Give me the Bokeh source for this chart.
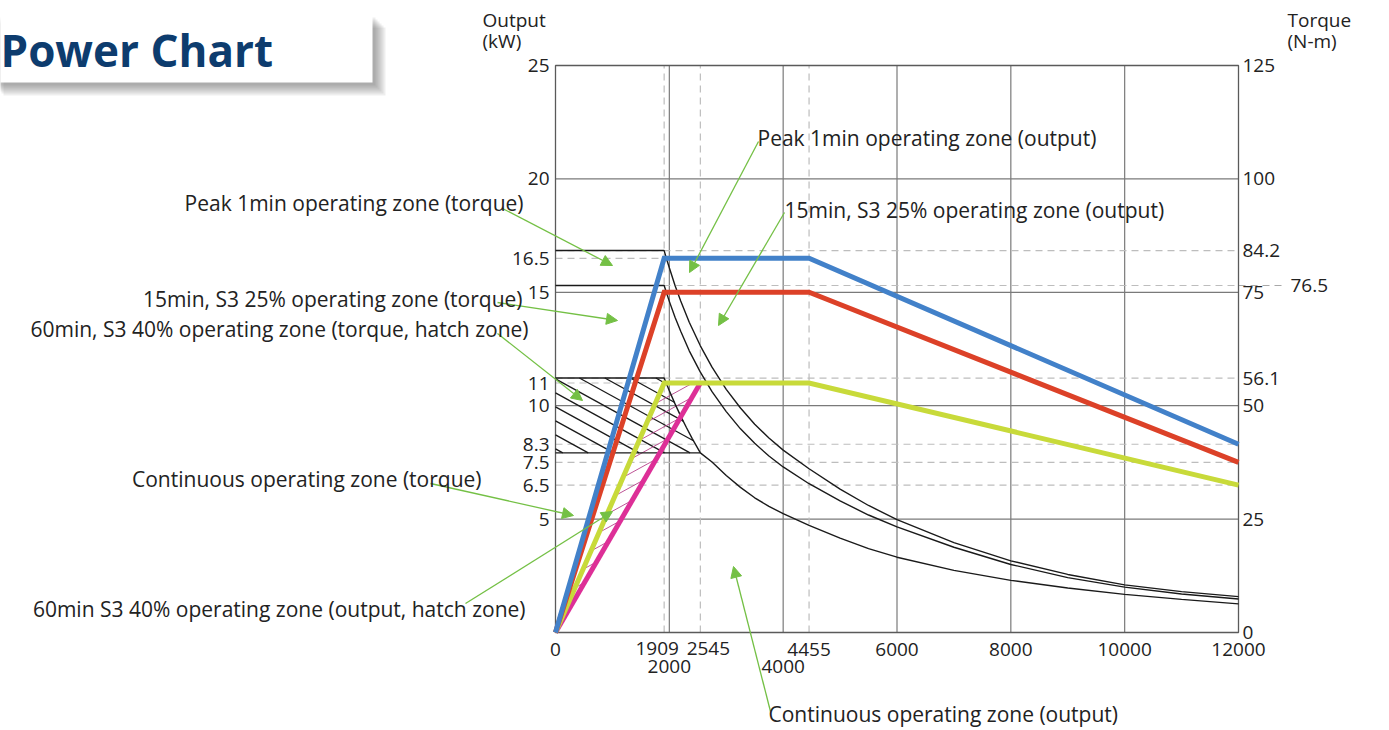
import numpy as np
from bokeh.plotting import figure
from bokeh.models import Range1d, LinearAxis, FixedTicker, Label, Arrow, NormalHead
from bokeh.embed import file_html
from bokeh.resources import INLINE

# ---------------- data ----------------
speed_peak = [0, 1909, 4455, 12000]
output_peak = [0, 16.5, 16.5, 8.3]
speed_s3_25 = [0, 1909, 4455, 12000]
output_s3_25 = [0, 15, 15, 7.5]
speed_cont = [0, 1909, 4455, 12000]
output_cont = [0, 11, 11, 6.5]
speed_s3_40 = [0, 2545]
output_s3_40 = [0, 11]

torque_speed_a = [0, 1909, 1950, 2000, 2100, 2200, 2350, 2545, 2750, 3000, 3250, 3500,
                  3750, 4000, 4455, 5000, 5500, 6000, 7000, 8000, 9000, 10000, 11000, 12000]
torque_peak = [84.2, 84.2, 82.4, 80.4, 76.5, 73.1, 68.4, 63.2, 58.5, 53.6, 49.5, 45.9,
               42.9, 40.2, 36.1, 31.6, 28.0, 24.9, 19.8, 15.8, 12.8, 10.5, 9.0, 7.9]
torque_s3_25 = [76.5, 76.5, 74.9, 73.0, 69.5, 66.4, 62.1, 57.4, 53.1, 48.7, 44.9, 41.7,
                38.9, 36.5, 32.8, 29.0, 25.9, 23.3, 18.8, 15.0, 12.1, 10.0, 8.5, 7.4]
torque_speed_s3_40 = [0, 1909, 2000, 2100, 2200, 2300, 2400, 2545]
torque_s3_40 = [56.1, 56.1, 53.3, 50.4, 47.7, 45.2, 42.8, 39.6]
torque_speed_cont = [0, 2545, 2750, 3000, 3250, 3500, 3750, 4000, 4455, 5000, 5500, 6000,
                     7000, 8000, 9000, 10000, 11000, 12000]
torque_cont = [39.6, 39.6, 37.6, 34.6, 32.0, 29.7, 27.8, 26.2, 23.6, 20.8, 18.5, 16.6,
               13.7, 11.5, 9.8, 8.4, 7.3, 6.3]

output_ticks = [5, 6.5, 7.5, 8.3, 10, 11, 15, 16.5, 20, 25]
torque_ticks = [0, 25, 50, 56.1, 75, 84.2, 100, 125]
speed_ticks_row1 = [0, 4455, 6000, 8000, 10000, 12000]
speed_ticks_shifted = [1909, 2545]
speed_ticks_row2 = [2000, 4000]
grid_speed = [2000, 4000, 6000, 8000, 10000]
grid_output = [5, 10, 15, 20]
dashed_speed = [1909, 2545, 4455]
dashed_output = [16.5, 11, 8.3, 7.5, 6.5]
dashed_output_end = [1909, 1909, 12000, 12000, 12000]
dashed_torque = [84.2, 76.5, 56.1]
torque_extra_label = 76.5

annotations = [
    "Peak 1min operating zone (torque)",
    "Peak 1min operating zone (output)",
    "15min, S3 25% operating zone (output)",
    "15min, S3 25% operating zone (torque)",
    "60min, S3 40% operating zone (torque, hatch zone)",
    "Continuous operating zone (torque)",
    "60min S3 40% operating zone (output, hatch zone)",
    "Continuous operating zone (output)",
]

SPEED_MAX = speed_ticks_row1[-1]
OUTPUT_MAX = output_ticks[-1]
TORQUE_MAX = torque_ticks[-1]

# ---------------- layout helpers ----------------
FONT = "Open Sans"
FRAME_L, FRAME_R, FRAME_T, FRAME_B = 555, 1238, 65, 632   # canvas pixels of the chart box
SX = (FRAME_R - FRAME_L) / SPEED_MAX    # px per rpm
SY = (FRAME_B - FRAME_T) / OUTPUT_MAX   # px per kW
SYT = (FRAME_B - FRAME_T) / TORQUE_MAX  # px per N-m
W, H = 1385, 728


def dx(px):
    return (px - FRAME_L) / SX


def dy(py):
    return (FRAME_B - py) / SY


def dyt(py):
    return (FRAME_B - py) / SYT


# the plotting frame covers the whole canvas so that the texts round the chart are not clipped
p = figure(width=W, height=H, x_range=Range1d(dx(0), dx(W)), y_range=Range1d(dy(H), dy(0)),
           output_backend="svg", toolbar_location=None, min_border=0,
           x_axis_location=None, y_axis_location=None)
p.extra_y_ranges = {"torque": Range1d(dyt(H), dyt(0))}
p.outline_line_color = None
p.background_fill_color = "white"
p.border_fill_color = "white"
p.grid.visible = False

TICK_FS = "19px"
TXT = "#222222"
GRID = "#7a7a7a"
DASH = "#bdbdbd"


def style_axis(ax, standoff):
    ax.major_tick_line_color = None
    ax.minor_tick_line_color = None
    ax.major_tick_out = 0
    ax.major_tick_in = 0
    ax.axis_line_color = None
    ax.major_label_standoff = standoff
    ax.major_label_text_font = FONT
    ax.major_label_text_font_size = TICK_FS
    ax.major_label_text_color = TXT


xax = LinearAxis(ticker=FixedTicker(ticks=speed_ticks_row1), fixed_location=0)
style_axis(xax, 10)
p.add_layout(xax, "below")
xax2 = LinearAxis(ticker=FixedTicker(ticks=speed_ticks_row2), fixed_location=0)
style_axis(xax2, 27)
p.add_layout(xax2, "below")
yax = LinearAxis(ticker=FixedTicker(ticks=output_ticks), fixed_location=0)
style_axis(yax, 6)
p.add_layout(yax, "left")
rax = LinearAxis(y_range_name="torque", ticker=FixedTicker(ticks=torque_ticks),
                 fixed_location=SPEED_MAX)
style_axis(rax, 4)
p.add_layout(rax, "right")


def clabel(x, y, text, size, align="left", baseline="middle", **kw):
    return Label(x=x, y=y, x_units="canvas", y_units="canvas", text=text, text_font=FONT,
                 text_font_size=size, text_align=align, text_baseline=baseline, **kw)


# ---------------- title box with soft shadow ----------------
BOX_L, BOX_R, BOX_T, BOX_B = -10, 372, 14, 82
for k in [3, 5, 7, 9, 11, 13]:
    p.quad(left=dx(BOX_L + k), right=dx(BOX_R + k), top=dy(BOX_T + k), bottom=dy(BOX_B + k),
           fill_color="#404040", fill_alpha=0.09, line_color=None)
p.quad(left=dx(BOX_L), right=dx(BOX_R), top=dy(BOX_T), bottom=dy(BOX_B),
       fill_color="white", line_color=None)
p.add_layout(clabel(0, 49, "Power Chart", "44px", text_font_style="bold",
                    text_color="#0d3c6e"))

# ---------------- grid & dashed reference lines ----------------
p.segment(x0=grid_speed, x1=grid_speed, y0=0, y1=OUTPUT_MAX, line_color=GRID, line_width=1.2)
p.segment(x0=0, x1=SPEED_MAX, y0=grid_output, y1=grid_output, line_color=GRID, line_width=1.2)
p.segment(x0=dashed_speed, x1=dashed_speed, y0=0, y1=OUTPUT_MAX, line_color=DASH,
          line_dash="7 5", line_width=1.2)
p.segment(x0=0, x1=dashed_output_end, y0=dashed_output, y1=dashed_output,
          line_color=DASH, line_dash="7 5", line_width=1.2)
p.segment(x0=0, x1=SPEED_MAX, y0=dashed_torque, y1=dashed_torque, y_range_name="torque",
          line_color=DASH, line_dash="7 5", line_width=1.2)
p.segment(x0=SPEED_MAX, x1=dx(1283), y0=torque_extra_label, y1=torque_extra_label,
          y_range_name="torque", line_color="#a8a8a8", line_dash="7 5", line_width=1.2)
p.add_layout(clabel(1290, FRAME_B - torque_extra_label * SYT, str(torque_extra_label),
                    TICK_FS, text_color=TXT))

# chart box
p.quad(left=0, right=SPEED_MAX, bottom=0, top=OUTPUT_MAX, fill_color=None,
       line_color="#5a5a5a", line_width=1.3)


# ---------------- hatching ----------------
def hatch_segments(xs, ys, sy, slope, step, phase=0.0):
    X = np.asarray(xs, float) * SX
    Y = np.asarray(ys, float) * sy
    cv = Y - slope * X
    cs = np.arange(cv.min() + phase, cv.max(), step)
    out = ([], [], [], [])
    n = len(X)
    for c in cs:
        f = Y - (c + slope * X)
        hits = []
        for i in range(n):
            j = (i + 1) % n
            if (f[i] > 0) != (f[j] > 0):
                t = f[i] / (f[i] - f[j])
                hits.append(X[i] + t * (X[j] - X[i]))
        hits.sort()
        for a, b in zip(hits[0::2], hits[1::2]):
            out[0].append(a / SX)
            out[1].append((c + slope * a) / sy)
            out[2].append(b / SX)
            out[3].append((c + slope * b) / sy)
    return out


hx = list(torque_speed_s3_40) + [torque_speed_cont[0]]
hy = list(torque_s3_40) + [torque_cont[0]]
a0, b0, a1, b1 = hatch_segments(hx, hy, SYT, -0.55, 14, phase=4)
p.segment(x0=a0, y0=b0, x1=a1, y1=b1, y_range_name="torque",
          line_color="#1a1a1a", line_width=1.3)

mx = [0, speed_cont[1], speed_s3_40[1]]
my = [0, output_cont[1], output_s3_40[1]]
a0, b0, a1, b1 = hatch_segments(mx, my, SY, 0.55, 14, phase=6)
p.segment(x0=a0, y0=b0, x1=a1, y1=b1, line_color="#b5428a", line_width=0.9)

# ---------------- torque curves ----------------
BLK = "#1a1a1a"
for xs, ys in [(torque_speed_a, torque_peak), (torque_speed_a, torque_s3_25),
               (torque_speed_s3_40, torque_s3_40), (torque_speed_cont, torque_cont)]:
    p.line(xs, ys, y_range_name="torque", line_color=BLK, line_width=1.4)

# ---------------- output curves ----------------
p.line(speed_s3_40, output_s3_40, line_color="#dd2f97", line_width=5)
p.line(speed_cont, output_cont, line_color="#c8da3a", line_width=5, line_join="miter")
p.line(speed_s3_25, output_s3_25, line_color="#dc4128", line_width=5, line_join="miter")
p.line(speed_peak, output_peak, line_color="#4281c9", line_width=5, line_join="miter")

# ---------------- annotations ----------------
GREEN = "#74c045"
ANN_FS = "21px"
label_pos = [  # (canvas x, canvas y, align)
    (523, 202, "right"), (757, 137, "left"), (784, 209, "left"), (522, 298, "right"),
    (528, 328, "right"), (481, 478, "right"), (525, 608, "right"), (768, 713, "left"),
]
arrow_pos = [
    (502, 208, 612, 265), (758, 141, 689, 272), (784, 212, 718, 325),
    (497, 302, 617, 320), (497, 333, 582, 400), (430, 483, 573, 515),
    (465, 603, 612, 511), (770, 711, 733, 566),
]
for (x0, y0, x1, y1) in arrow_pos:
    p.add_layout(Arrow(end=NormalHead(size=11, fill_color=GREEN, line_color=GREEN),
                       x_start=x0, y_start=y0, x_end=x1, y_end=y1,
                       start_units="canvas", end_units="canvas",
                       line_color=GREEN, line_width=1.3))
for txt, (x, y, al) in zip(annotations, label_pos):
    p.add_layout(clabel(x, y, txt, ANN_FS, align=al, text_color=TXT))

for xs, txt_off in zip(speed_ticks_shifted, [-7, 8]):
    p.add_layout(clabel(FRAME_L + xs * SX + txt_off, 641, str(xs), TICK_FS,
                        align="center", baseline="top", text_color=TXT))

# axis titles
for txt, x, y in [("Output", 482, 19), ("(kW)", 482, 40),
                  ("Torque", 1287, 19), ("(N-m)", 1287, 40)]:
    p.add_layout(clabel(x, y, txt, "19px", text_color=TXT))

open("out.html", "w").write(file_html(p, INLINE))
